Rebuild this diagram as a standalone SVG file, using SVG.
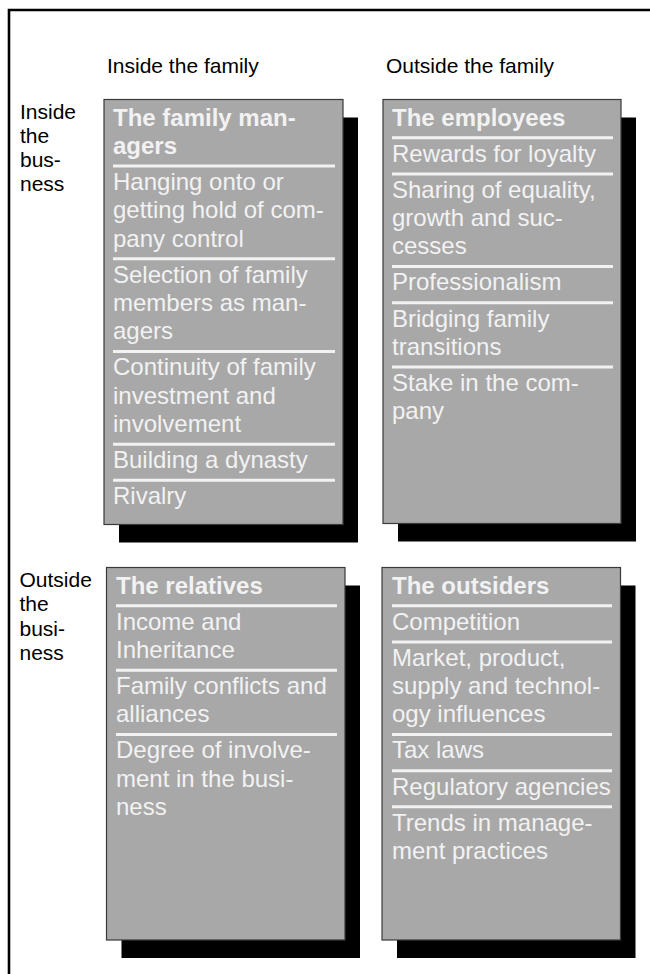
<svg xmlns="http://www.w3.org/2000/svg" width="650" height="974" viewBox="0 0 650 974">
<style>
.lbl{font-family:"Liberation Sans",Arial,sans-serif;font-size:21px;fill:#000}
.t{font-family:"Liberation Sans",Arial,sans-serif;font-size:24px;fill:#f2f2f2}
.tb{font-family:"Liberation Sans",Arial,sans-serif;font-size:24px;font-weight:bold;fill:#f2f2f2}
.box{fill:#a8a8a8;stroke:#3a3a3a;stroke-width:1.2}
.sh{fill:#000}
.dv{stroke:#f2f2f2;stroke-width:3}
.frame{stroke:#000;stroke-width:2.6;fill:none}
</style>
<rect width="650" height="974" fill="#fff"/>
<path class="frame" d="M9,974 V10 H650"/>
<g id="headers">
<text class="lbl" x="107" y="72.5">Inside the family</text>
<text class="lbl" x="386" y="72.5">Outside the family</text>
</g>
<g id="row-labels">
<text class="lbl" x="20" y="119.3">Inside</text>
<text class="lbl" x="20" y="143.3">the</text>
<text class="lbl" x="20" y="167.3">bus-</text>
<text class="lbl" x="20" y="191.3">ness</text>
<text class="lbl" x="19.5" y="586.7">Outside</text>
<text class="lbl" x="19.5" y="611.2">the</text>
<text class="lbl" x="19.5" y="635.7">busi-</text>
<text class="lbl" x="19.5" y="660.2">ness</text>
</g>
<g id="family-managers">
<rect class="sh" x="119" y="117.5" width="239" height="425"/>
<rect class="box" x="104" y="99.5" width="239" height="425"/>
<text class="tb" x="113" y="125.5">The family man-</text>
<text class="tb" x="113" y="153.8">agers</text>
<line class="dv" x1="113" y1="166.1" x2="335" y2="166.1"/>
<text class="t" x="113" y="189.9">Hanging onto or</text>
<text class="t" x="113" y="218.2">getting hold of com-</text>
<text class="t" x="113" y="246.5">pany control</text>
<line class="dv" x1="113" y1="258.8" x2="335" y2="258.8"/>
<text class="t" x="113" y="282.6">Selection of family</text>
<text class="t" x="113" y="310.9">members as man-</text>
<text class="t" x="113" y="339.2">agers</text>
<line class="dv" x1="113" y1="351.5" x2="335" y2="351.5"/>
<text class="t" x="113" y="375.3">Continuity of family</text>
<text class="t" x="113" y="403.6">investment and</text>
<text class="t" x="113" y="431.9">involvement</text>
<line class="dv" x1="113" y1="444.2" x2="335" y2="444.2"/>
<text class="t" x="113" y="468">Building a dynasty</text>
<line class="dv" x1="113" y1="480.3" x2="335" y2="480.3"/>
<text class="t" x="113" y="504.1">Rivalry</text>
</g>
<g id="employees">
<rect class="sh" x="398" y="117.5" width="238" height="424"/>
<rect class="box" x="383" y="99.5" width="238" height="424"/>
<text class="tb" x="392" y="125.5">The employees</text>
<line class="dv" x1="392" y1="137.8" x2="613" y2="137.8"/>
<text class="t" x="392" y="161.6">Rewards for loyalty</text>
<line class="dv" x1="392" y1="173.9" x2="613" y2="173.9"/>
<text class="t" x="392" y="197.7">Sharing of equality,</text>
<text class="t" x="392" y="226">growth and suc-</text>
<text class="t" x="392" y="254.3">cesses</text>
<line class="dv" x1="392" y1="266.6" x2="613" y2="266.6"/>
<text class="t" x="392" y="290.4">Professionalism</text>
<line class="dv" x1="392" y1="302.7" x2="613" y2="302.7"/>
<text class="t" x="392" y="326.5">Bridging family</text>
<text class="t" x="392" y="354.8">transitions</text>
<line class="dv" x1="392" y1="367.1" x2="613" y2="367.1"/>
<text class="t" x="392" y="390.9">Stake in the com-</text>
<text class="t" x="392" y="419.2">pany</text>
</g>
<g id="relatives">
<rect class="sh" x="121.5" y="585.5" width="238.5" height="372.5"/>
<rect class="box" x="106.5" y="567.5" width="238.5" height="372.5"/>
<text class="tb" x="116" y="593.5">The relatives</text>
<line class="dv" x1="116" y1="605.8" x2="337" y2="605.8"/>
<text class="t" x="116" y="629.6">Income and</text>
<text class="t" x="116" y="657.9">Inheritance</text>
<line class="dv" x1="116" y1="670.2" x2="337" y2="670.2"/>
<text class="t" x="116" y="694">Family conflicts and</text>
<text class="t" x="116" y="722.3">alliances</text>
<line class="dv" x1="116" y1="734.6" x2="337" y2="734.6"/>
<text class="t" x="116" y="758.4">Degree of involve-</text>
<text class="t" x="116" y="786.7">ment in the busi-</text>
<text class="t" x="116" y="815">ness</text>
</g>
<g id="outsiders">
<rect class="sh" x="397" y="585.5" width="238.5" height="372.5"/>
<rect class="box" x="382" y="567.5" width="238.5" height="372.5"/>
<text class="tb" x="392" y="593.5">The outsiders</text>
<line class="dv" x1="392" y1="605.8" x2="612" y2="605.8"/>
<text class="t" x="392" y="629.6">Competition</text>
<line class="dv" x1="392" y1="641.9" x2="612" y2="641.9"/>
<text class="t" x="392" y="665.7">Market, product,</text>
<text class="t" x="392" y="694">supply and technol-</text>
<text class="t" x="392" y="722.3">ogy influences</text>
<line class="dv" x1="392" y1="734.6" x2="612" y2="734.6"/>
<text class="t" x="392" y="758.4">Tax laws</text>
<line class="dv" x1="392" y1="770.7" x2="612" y2="770.7"/>
<text class="t" x="392" y="794.5">Regulatory agencies</text>
<line class="dv" x1="392" y1="806.8" x2="612" y2="806.8"/>
<text class="t" x="392" y="830.6">Trends in manage-</text>
<text class="t" x="392" y="858.9">ment practices</text>
</g>
</svg>
